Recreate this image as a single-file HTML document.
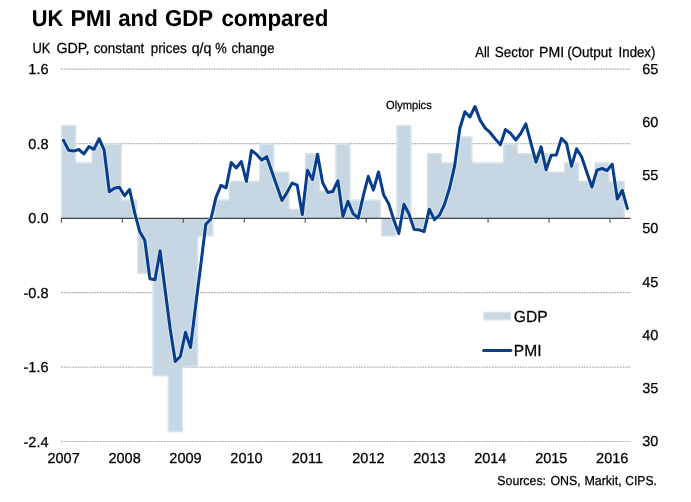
<!DOCTYPE html>
<html><head><meta charset="utf-8"><title>UK PMI and GDP compared</title>
<style>
html,body{margin:0;padding:0;background:#fff;}
body{width:691px;height:502px;overflow:hidden;}
svg{display:block;will-change:transform;}
text{font-family:'Liberation Sans', Arial, sans-serif;fill:#000;text-rendering:geometricPrecision;stroke:#000;stroke-width:0.25px;}
</style></head><body>
<svg width="691" height="502" viewBox="0 0 691 502">
<rect x="0" y="0" width="691" height="502" fill="#fff"/>

<line x1="61" y1="69.1" x2="630" y2="69.1" stroke="#b2b2b2" stroke-width="1.2" stroke-dasharray="1.9,0.88"/>
<line x1="61" y1="143.6" x2="630" y2="143.6" stroke="#b2b2b2" stroke-width="1.2" stroke-dasharray="1.9,0.88"/>
<line x1="61" y1="292.6" x2="630" y2="292.6" stroke="#b2b2b2" stroke-width="1.2" stroke-dasharray="1.9,0.88"/>
<line x1="61" y1="367.1" x2="630" y2="367.1" stroke="#b2b2b2" stroke-width="1.2" stroke-dasharray="1.9,0.88"/>
<line x1="61" y1="441.5" x2="630" y2="441.5" stroke="#b2b2b2" stroke-width="1.2" stroke-dasharray="1.9,0.88"/>
<path fill="#c6d6e3" d="M61.00,125.00L76.24,125.00L76.24,162.24L91.48,162.24L91.48,143.62L106.72,143.62L106.72,143.62L121.96,143.62L121.96,199.48L137.20,199.48L137.20,218.10L152.44,218.10L152.44,218.10L167.68,218.10L167.68,218.10L182.92,218.10L182.92,218.10L198.16,218.10L198.16,218.10L213.40,218.10L213.40,199.48L228.64,199.48L228.64,180.86L243.88,180.86L243.88,180.86L259.12,180.86L259.12,143.62L274.36,143.62L274.36,171.55L289.60,171.55L289.60,208.79L304.84,208.79L304.84,152.93L320.08,152.93L320.08,190.17L335.32,190.17L335.32,143.62L350.56,143.62L350.56,199.48L365.80,199.48L365.80,199.48L381.04,199.48L381.04,218.10L396.28,218.10L396.28,125.00L411.52,125.00L411.52,218.10L426.76,218.10L426.76,152.93L442.00,152.93L442.00,162.24L457.24,162.24L457.24,136.17L472.48,136.17L472.48,162.24L487.72,162.24L487.72,162.24L502.96,162.24L502.96,143.62L518.20,143.62L518.20,152.93L533.44,152.93L533.44,152.93L548.68,152.93L548.68,171.55L563.92,171.55L563.92,162.24L579.16,162.24L579.16,180.86L594.40,180.86L594.40,162.24L609.64,162.24L609.64,180.86L624.88,180.86L624.88,218.10L609.64,218.10L609.64,218.10L594.40,218.10L594.40,218.10L579.16,218.10L579.16,218.10L563.92,218.10L563.92,218.10L548.68,218.10L548.68,218.10L533.44,218.10L533.44,218.10L518.20,218.10L518.20,218.10L502.96,218.10L502.96,218.10L487.72,218.10L487.72,218.10L472.48,218.10L472.48,218.10L457.24,218.10L457.24,218.10L442.00,218.10L442.00,218.10L426.76,218.10L426.76,229.27L411.52,229.27L411.52,218.10L396.28,218.10L396.28,236.72L381.04,236.72L381.04,218.10L365.80,218.10L365.80,218.10L350.56,218.10L350.56,218.10L335.32,218.10L335.32,218.10L320.08,218.10L320.08,218.10L304.84,218.10L304.84,218.10L289.60,218.10L289.60,218.10L274.36,218.10L274.36,218.10L259.12,218.10L259.12,218.10L243.88,218.10L243.88,218.10L228.64,218.10L228.64,218.10L213.40,218.10L213.40,236.72L198.16,236.72L198.16,367.06L182.92,367.06L182.92,432.23L167.68,432.23L167.68,376.37L152.44,376.37L152.44,273.96L137.20,273.96L137.20,218.10L121.96,218.10L121.96,218.10L106.72,218.10L106.72,218.10L91.48,218.10L91.48,218.10L76.24,218.10L76.24,218.10L61.00,218.10Z"/>
<path d="M61.00,125.75H76.24M61.75,125.00V218.10M75.49,125.00V162.24M76.24,162.99H91.48M91.48,144.37H106.72M92.23,143.62V162.24M106.72,144.37H121.96M121.21,143.62V199.48M121.96,200.23H137.20M136.45,199.48V218.10M137.20,273.21H152.44M137.95,218.10V273.96M152.44,375.62H167.68M153.19,273.96V376.37M167.68,431.48H182.92M168.43,376.37V432.23M182.17,367.06V432.23M182.92,366.31H198.16M197.41,236.72V367.06M198.16,235.97H213.40M212.65,218.10V236.72M213.40,200.23H228.64M214.15,199.48V218.10M228.64,181.61H243.88M229.39,180.86V199.48M243.88,181.61H259.12M259.12,144.37H274.36M259.87,143.62V180.86M273.61,143.62V171.55M274.36,172.30H289.60M288.85,171.55V208.79M289.60,209.54H304.84M304.84,153.68H320.08M305.59,152.93V208.79M319.33,152.93V190.17M320.08,190.92H335.32M335.32,144.37H350.56M336.07,143.62V190.17M349.81,143.62V199.48M350.56,200.23H365.80M365.80,200.23H381.04M380.29,199.48V218.10M381.04,235.97H396.28M381.79,218.10V236.72M395.53,218.10V236.72M396.28,125.75H411.52M397.03,125.00V218.10M410.77,125.00V218.10M411.52,228.52H426.76M412.27,218.10V229.27M426.01,218.10V229.27M426.76,153.68H442.00M427.51,152.93V218.10M441.25,152.93V162.24M442.00,162.99H457.24M457.24,136.92H472.48M457.99,136.17V162.24M471.73,136.17V162.24M472.48,162.99H487.72M487.72,162.99H502.96M502.96,144.37H518.20M503.71,143.62V162.24M517.45,143.62V152.93M518.20,153.68H533.44M533.44,153.68H548.68M547.93,152.93V171.55M548.68,172.30H563.92M563.92,162.99H579.16M564.67,162.24V171.55M578.41,162.24V180.86M579.16,181.61H594.40M594.40,162.99H609.64M595.15,162.24V180.86M608.89,162.24V180.86M609.64,181.61H624.88M624.13,180.86V218.10" fill="none" stroke="#fff" stroke-opacity="0.3" stroke-width="1.5"/>
<line x1="61" y1="218.4" x2="630.5" y2="218.4" stroke="#404040" stroke-width="1.2"/>
<g stroke="#404040" stroke-width="1"><line x1="61.35" y1="218.4" x2="61.35" y2="222.8" /><line x1="122.31" y1="218.4" x2="122.31" y2="222.8" /><line x1="183.27" y1="218.4" x2="183.27" y2="222.8" /><line x1="244.23" y1="218.4" x2="244.23" y2="222.8" /><line x1="305.19" y1="218.4" x2="305.19" y2="222.8" /><line x1="366.15" y1="218.4" x2="366.15" y2="222.8" /><line x1="427.11" y1="218.4" x2="427.11" y2="222.8" /><line x1="488.07" y1="218.4" x2="488.07" y2="222.8" /><line x1="549.03" y1="218.4" x2="549.03" y2="222.8" /><line x1="609.99" y1="218.4" x2="609.99" y2="222.8" /></g>
<polyline points="63.5,140.4 68.6,150.3 73.7,151.1 78.8,149.5 83.9,153.9 88.9,146.6 94.0,149.3 99.1,138.7 104.2,150.2 109.3,191.8 114.3,188.3 119.4,187.3 124.5,195.8 129.6,189.5 134.7,212.9 139.7,231.5 144.8,240.3 149.9,278.7 155.0,279.8 160.1,250.8 165.1,289.7 170.2,329.0 175.3,361.5 180.4,356.3 185.5,332.3 190.5,347.5 195.6,306.0 200.7,265.8 205.8,224.3 210.9,219.0 215.9,197.6 221.0,185.4 226.1,187.8 231.2,162.5 236.3,168.0 241.3,161.5 246.4,181.5 251.5,150.5 256.6,154.4 261.7,160.0 266.7,156.7 271.8,171.5 276.9,186.1 282.0,200.5 287.1,192.4 292.1,183.1 297.2,185.2 302.3,214.5 307.4,170.3 312.5,179.5 317.5,154.2 322.6,182.5 327.7,192.4 332.8,191.5 337.9,180.7 342.9,216.6 348.0,201.3 353.1,213.6 358.2,218.2 363.3,195.7 368.3,176.4 373.4,190.1 378.5,172.0 383.6,194.7 388.7,203.7 393.7,219.6 398.8,233.6 403.9,204.2 409.0,214.0 414.1,229.4 419.1,229.8 424.2,231.5 429.3,209.2 434.4,219.7 439.5,215.1 444.5,204.4 449.6,188.0 454.7,165.6 459.8,128.5 464.9,111.8 469.9,117.0 475.0,106.5 480.1,120.1 485.2,128.1 490.3,132.7 495.3,139.0 500.4,144.8 505.5,129.6 510.6,133.3 515.7,140.0 520.7,133.5 525.8,123.9 530.9,142.8 536.0,162.1 541.1,146.8 546.1,169.7 551.2,155.3 556.3,155.1 561.4,138.4 566.5,143.4 571.5,166.2 576.6,148.8 581.7,157.0 586.8,172.2 591.9,187.0 596.9,170.2 602.0,168.5 607.1,170.5 612.2,164.1 617.3,199.0 622.3,190.3 627.4,208.6" fill="none" stroke="#fff" stroke-opacity="0.35" stroke-width="5.2" stroke-linejoin="round" stroke-linecap="round"/>
<polyline points="63.5,140.4 68.6,150.3 73.7,151.1 78.8,149.5 83.9,153.9 88.9,146.6 94.0,149.3 99.1,138.7 104.2,150.2 109.3,191.8 114.3,188.3 119.4,187.3 124.5,195.8 129.6,189.5 134.7,212.9 139.7,231.5 144.8,240.3 149.9,278.7 155.0,279.8 160.1,250.8 165.1,289.7 170.2,329.0 175.3,361.5 180.4,356.3 185.5,332.3 190.5,347.5 195.6,306.0 200.7,265.8 205.8,224.3 210.9,219.0 215.9,197.6 221.0,185.4 226.1,187.8 231.2,162.5 236.3,168.0 241.3,161.5 246.4,181.5 251.5,150.5 256.6,154.4 261.7,160.0 266.7,156.7 271.8,171.5 276.9,186.1 282.0,200.5 287.1,192.4 292.1,183.1 297.2,185.2 302.3,214.5 307.4,170.3 312.5,179.5 317.5,154.2 322.6,182.5 327.7,192.4 332.8,191.5 337.9,180.7 342.9,216.6 348.0,201.3 353.1,213.6 358.2,218.2 363.3,195.7 368.3,176.4 373.4,190.1 378.5,172.0 383.6,194.7 388.7,203.7 393.7,219.6 398.8,233.6 403.9,204.2 409.0,214.0 414.1,229.4 419.1,229.8 424.2,231.5 429.3,209.2 434.4,219.7 439.5,215.1 444.5,204.4 449.6,188.0 454.7,165.6 459.8,128.5 464.9,111.8 469.9,117.0 475.0,106.5 480.1,120.1 485.2,128.1 490.3,132.7 495.3,139.0 500.4,144.8 505.5,129.6 510.6,133.3 515.7,140.0 520.7,133.5 525.8,123.9 530.9,142.8 536.0,162.1 541.1,146.8 546.1,169.7 551.2,155.3 556.3,155.1 561.4,138.4 566.5,143.4 571.5,166.2 576.6,148.8 581.7,157.0 586.8,172.2 591.9,187.0 596.9,170.2 602.0,168.5 607.1,170.5 612.2,164.1 617.3,199.0 622.3,190.3 627.4,208.6" fill="none" stroke="#063d8c" stroke-width="3" stroke-linejoin="round" stroke-linecap="round"/>
<text x="31.63" y="26" textLength="31.55" lengthAdjust="spacingAndGlyphs" style="font-size:23px;font-weight:bold;stroke-width:0.05px">UK</text>
<text x="70.55" y="26" textLength="40.84" lengthAdjust="spacingAndGlyphs" style="font-size:23px;font-weight:bold;stroke-width:0.05px">PMI</text>
<text x="118.23" y="26" textLength="39.51" lengthAdjust="spacingAndGlyphs" style="font-size:23px;font-weight:bold;stroke-width:0.05px">and</text>
<text x="165.09" y="26" textLength="48.08" lengthAdjust="spacingAndGlyphs" style="font-size:23px;font-weight:bold;stroke-width:0.05px">GDP</text>
<text x="221.38" y="26" textLength="107.07" lengthAdjust="spacingAndGlyphs" style="font-size:23px;font-weight:bold;stroke-width:0.05px">compared</text>
<text x="32.44" y="52.6" textLength="17.96" lengthAdjust="spacingAndGlyphs" style="font-size:14.6px">UK</text>
<text x="56.42" y="52.6" textLength="33.01" lengthAdjust="spacingAndGlyphs" style="font-size:14.6px">GDP,</text>
<text x="93.66" y="52.6" textLength="50.65" lengthAdjust="spacingAndGlyphs" style="font-size:14.6px">constant</text>
<text x="150.83" y="52.6" textLength="35.82" lengthAdjust="spacingAndGlyphs" style="font-size:14.6px">prices</text>
<text x="191.66" y="52.6" textLength="19.70" lengthAdjust="spacingAndGlyphs" style="font-size:14.6px">q/q</text>
<text x="215.21" y="52.6" textLength="11.47" lengthAdjust="spacingAndGlyphs" style="font-size:14.6px">%</text>
<text x="231.48" y="52.6" textLength="42.95" lengthAdjust="spacingAndGlyphs" style="font-size:14.6px">change</text>
<text x="475.35" y="56.6" textLength="14.36" lengthAdjust="spacingAndGlyphs" style="font-size:14.6px">All</text>
<text x="494.76" y="56.6" textLength="38.97" lengthAdjust="spacingAndGlyphs" style="font-size:14.6px">Sector</text>
<text x="539.04" y="56.6" textLength="25.12" lengthAdjust="spacingAndGlyphs" style="font-size:14.6px">PMI</text>
<text x="567.13" y="56.6" textLength="44.98" lengthAdjust="spacingAndGlyphs" style="font-size:14.6px">(Output</text>
<text x="618.62" y="56.6" textLength="36.77" lengthAdjust="spacingAndGlyphs" style="font-size:14.6px">Index)</text>
<text x="497.34" y="484.5" textLength="48.66" lengthAdjust="spacingAndGlyphs" style="font-size:13px">Sources:</text>
<text x="550.43" y="484.5" textLength="30.42" lengthAdjust="spacingAndGlyphs" style="font-size:13px">ONS,</text>
<text x="584.39" y="484.5" textLength="37.36" lengthAdjust="spacingAndGlyphs" style="font-size:13px">Markit,</text>
<text x="625.15" y="484.5" textLength="31.74" lengthAdjust="spacingAndGlyphs" style="font-size:13px">CIPS.</text>
<text x="386.07" y="108.6" textLength="45.67" lengthAdjust="spacingAndGlyphs" style="font-size:11.7px">Olympics</text>
<text x="513.82" y="321.6" textLength="33.83" lengthAdjust="spacingAndGlyphs" style="font-size:16px">GDP</text>
<text x="513.84" y="356.1" textLength="27.62" lengthAdjust="spacingAndGlyphs" style="font-size:16px">PMI</text>
<text x="48.5" y="74.3" text-anchor="end" style="font-size:14.5px">1.6</text>
<text x="48.5" y="148.8" text-anchor="end" style="font-size:14.5px">0.8</text>
<text x="48.5" y="223.3" text-anchor="end" style="font-size:14.5px">0.0</text>
<text x="48.5" y="297.8" text-anchor="end" style="font-size:14.5px">-0.8</text>
<text x="48.5" y="372.3" text-anchor="end" style="font-size:14.5px">-1.6</text>
<text x="48.5" y="446.7" text-anchor="end" style="font-size:14.5px">-2.4</text>
<text x="642.2" y="74.1" style="font-size:14.5px">65</text>
<text x="642.2" y="127.2" style="font-size:14.5px">60</text>
<text x="642.2" y="180.3" style="font-size:14.5px">55</text>
<text x="642.2" y="233.4" style="font-size:14.5px">50</text>
<text x="642.2" y="286.5" style="font-size:14.5px">45</text>
<text x="642.2" y="339.6" style="font-size:14.5px">40</text>
<text x="642.2" y="392.7" style="font-size:14.5px">35</text>
<text x="642.2" y="445.8" style="font-size:14.5px">30</text>
<text x="63.6" y="463" text-anchor="middle" style="font-size:14.5px">2007</text>
<text x="124.6" y="463" text-anchor="middle" style="font-size:14.5px">2008</text>
<text x="185.5" y="463" text-anchor="middle" style="font-size:14.5px">2009</text>
<text x="246.5" y="463" text-anchor="middle" style="font-size:14.5px">2010</text>
<text x="307.4" y="463" text-anchor="middle" style="font-size:14.5px">2011</text>
<text x="368.4" y="463" text-anchor="middle" style="font-size:14.5px">2012</text>
<text x="429.4" y="463" text-anchor="middle" style="font-size:14.5px">2013</text>
<text x="490.3" y="463" text-anchor="middle" style="font-size:14.5px">2014</text>
<text x="551.3" y="463" text-anchor="middle" style="font-size:14.5px">2015</text>
<text x="612.2" y="463" text-anchor="middle" style="font-size:14.5px">2016</text>
<rect x="483.3" y="311.8" width="27.8" height="8.6" fill="#c6d6e3"/>
<rect x="484.05" y="312.55" width="26.3" height="7.1" fill="none" stroke="#fff" stroke-opacity="0.3" stroke-width="1.5"/>
<line x1="483.6" y1="350.6" x2="510.8" y2="350.6" stroke="#063d8c" stroke-width="3" stroke-linecap="round"/>
</svg>
</body></html>
